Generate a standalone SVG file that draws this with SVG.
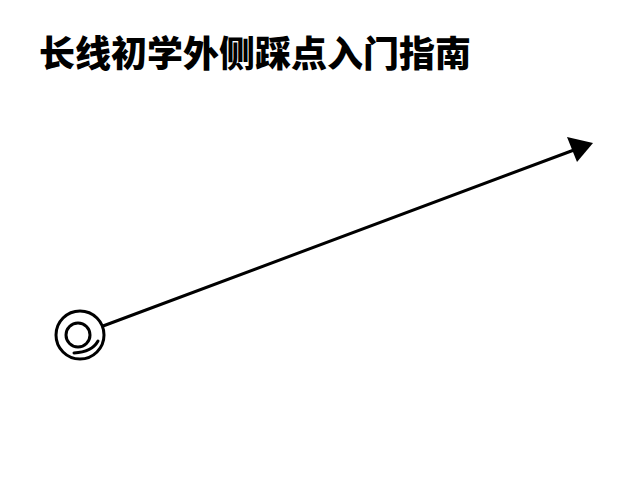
<svg xmlns="http://www.w3.org/2000/svg" width="640" height="480" viewBox="0 0 640 480">
<style>
.title{font-family:"Noto Sans CJK SC","Noto Sans",sans-serif;font-weight:900;font-size:36px;fill:#000}
.ln{stroke:#000;stroke-width:3;fill:none;stroke-linecap:round}
</style>
<rect width="640" height="480" fill="#fff"/>
<text class="title" x="39" y="67" textLength="432" lengthAdjust="spacingAndGlyphs">长线初学外侧踩点入门指南</text>
<g id="start">
<circle class="ln" cx="80" cy="335" r="24"/>
<circle class="ln" cx="78" cy="335" r="12"/>
<path class="ln" d="M74 353 Q92 352 98 341"/>
</g>
<g id="connectors">
<line class="ln" x1="103" y1="326" x2="574" y2="150"/>
<polygon points="593,143 567,137 577,162" fill="#000"/>
</g>
</svg>
